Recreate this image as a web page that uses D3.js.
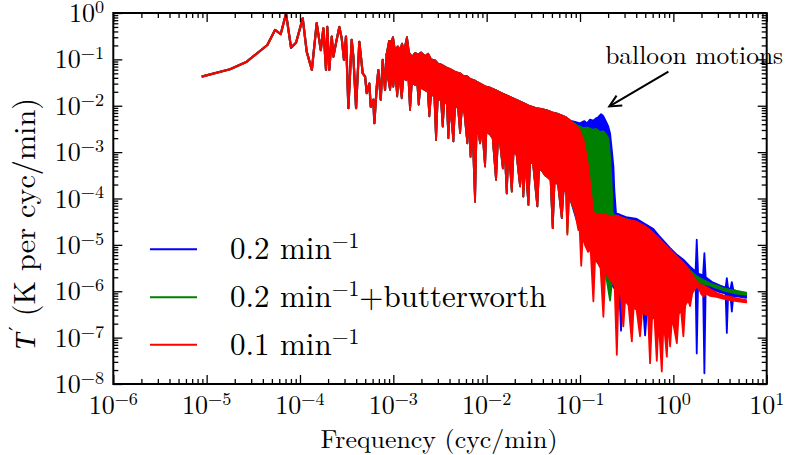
<!DOCTYPE html>
<html><head><meta charset="utf-8">
<script src="https://cdn.jsdelivr.net/npm/d3@7"></script>
<style>
body{margin:0;background:#fff}
svg{display:block}
</style>
</head><body>
<svg id="chart" width="787" height="455"></svg>
<script>
// ---------------- DATA ----------------
// Low-frequency part: a single trace, identical for all three filters
const traceFreq = [8.85e-6,1.78e-5,2.69e-5,4.47e-5,5.40e-5,6.22e-5,7.09e-5,8.02e-5,9.07e-5,1.07e-4,1.18e-4,1.34e-4,1.51e-4,1.67e-4,1.78e-4,1.90e-4,1.96e-4,2.06e-4,2.19e-4,2.28e-4,2.43e-4,2.64e-4,2.80e-4,2.96e-4,3.11e-4,3.30e-4,3.58e-4,3.73e-4,3.99e-4,4.32e-4,4.70e-4,4.98e-4,5.19e-4,5.53e-4,5.73e-4,6.11e-4,6.26e-4,6.64e-4,6.91e-4,7.33e-4,7.70e-4,8.15e-4,8.50e-4];
const traceT    = [0.0424,0.0611,0.0891,0.204,0.431,0.352,0.97,0.179,0.229,0.767,0.147,0.0592,0.603,0.158,0.468,0.059,0.50,0.059,0.309,0.115,0.224,0.50,0.282,0.098,0.309,0.0089,0.263,0.115,0.0089,0.24,0.050,0.0427,0.0186,0.030,0.0095,0.0135,0.0042,0.0257,0.059,0.0135,0.098,0.0219,0.135];

// Dense part (shared by all filters below ~0.07 cyc/min): upper and lower envelope
const midUpperFreq = [8.50e-4,9.00e-4,9.45e-4,9.93e-4,1.04e-3,1.12e-3,1.18e-3,1.24e-3,1.30e-3,1.40e-3,1.47e-3,1.59e-3,1.71e-3,1.84e-3,1.98e-3,2.19e-3,2.36e-3,2.54e-3,2.80e-3,3.01e-3,3.33e-3,3.67e-3,4.05e-3,4.59e-3,5.19e-3,5.58e-3,6.16e-3,6.64e-3,7.51e-3,8.50e-3,9.61e-3,1.09e-2,1.26e-2,1.46e-2,1.70e-2,1.92e-2,2.17e-2,2.45e-2,2.92e-2,3.38e-2,3.83e-2,4.44e-2,5.02e-2,5.68e-2,6.42e-2,7.09e-2];
const midUpperT    = [0.135,0.251,0.240,0.302,0.158,0.191,0.158,0.219,0.151,0.302,0.141,0.112,0.138,0.126,0.141,0.117,0.132,0.100,0.0955,0.0813,0.0759,0.0676,0.0617,0.0537,0.0501,0.0447,0.0437,0.0380,0.0347,0.0302,0.0263,0.0245,0.0214,0.0186,0.0162,0.0145,0.0129,0.0115,0.00977,0.00891,0.00851,0.00794,0.00724,0.00676,0.00617,0.00562];
const midLowerFreq = [8.50e-4,8.78e-4,9.22e-4,9.62e-4,1.00e-3,1.04e-3,1.10e-3,1.15e-3,1.23e-3,1.29e-3,1.37e-3,1.45e-3,1.51e-3,1.58e-3,1.71e-3,1.81e-3,1.87e-3,1.95e-3,2.13e-3,2.34e-3,2.43e-3,2.54e-3,2.75e-3,2.87e-3,2.99e-3,3.24e-3,3.38e-3,3.52e-3,3.74e-3,3.89e-3,4.05e-3,4.40e-3,4.59e-3,4.94e-3,5.19e-3,5.41e-3,5.77e-3,6.21e-3,6.48e-3,6.72e-3,6.97e-3,7.51e-3,7.83e-3,8.50e-3,8.92e-3,9.61e-3,9.92e-3,1.09e-2,1.16e-2,1.26e-2,1.32e-2,1.39e-2,1.49e-2,1.55e-2,1.64e-2,1.72e-2,1.86e-2,1.94e-2,2.09e-2,2.28e-2,2.38e-2,2.47e-2,2.58e-2,2.80e-2,2.92e-2,3.14e-2,3.49e-2,3.64e-2,3.92e-2,4.22e-2,4.55e-2,4.84e-2,5.10e-2,5.34e-2,5.82e-2,6.38e-2,6.67e-2,7.09e-2];
const midLowerT    = [0.135,0.0398,0.0219,0.0427,0.0257,0.0631,0.0158,0.0501,0.0145,0.0447,0.0355,0.0398,0.00813,0.0316,0.0282,0.0282,0.0105,0.0251,0.0224,0.0200,0.00589,0.0178,0.0158,0.00182,0.0141,0.0132,0.00355,0.0126,0.0112,0.00200,0.0112,0.00170,0.0100,0.00891,0.00257,0.00794,0.00708,0.00155,0.00631,0.000794,0.00562,8.51e-5,0.00447,0.00155,0.00355,0.00049,0.00282,0.0024,0.0020,0.000251,0.00178,0.00158,0.000447,0.00141,0.000129,0.0012,0.000141,0.0010,0.000891,0.000182,0.000794,0.00011,0.000708,7.24e-5,0.000631,0.000562,6.76e-5,0.000447,0.000398,0.000316,0.000282,0.000251,2.29e-5,0.00024,0.0002,3.8e-5,0.000158,0.000141];

// High-frequency parts, one per filter
const blueUpperFreq = [7.82e-2,9.23e-2,0.100,0.111,0.119,0.128,0.139,0.149,0.156,0.168,0.177,0.194,0.201,0.210,0.219,0.228,0.233,0.243,0.269,0.311,0.406,0.498,0.611,0.698,0.923,1.10,1.28,1.51,1.73,1.78,1.84,2.08,2.15,2.22,2.60,3.17,3.63,3.74,3.86,4.09,4.23,4.39,5.19,6.02];
const blueUpperT    = [0.00479,0.00437,0.00417,0.00468,0.00417,0.00501,0.00479,0.00537,0.00562,0.00661,0.00603,0.00417,0.00355,0.00251,0.00112,0.00049,0.000155,4.79e-5,4.47e-5,3.98e-5,3.63e-5,2.82e-5,2.19e-5,1.58e-5,8.51e-6,6.03e-6,4.79e-6,3.39e-6,2.63e-6,1.29e-5,2.40e-6,2.19e-6,6.61e-6,2.0e-6,1.58e-6,1.32e-6,1.20e-6,1.91e-6,1.17e-6,1.12e-6,1.58e-6,1.07e-6,9.33e-7,8.51e-7];
const blueLowerFreq = [7.82e-2,0.100,0.128,0.164,0.210,0.265,0.275,0.286,0.344,0.480,0.498,0.517,0.698,0.923,1.14,1.44,1.73,1.78,1.84,2.08,2.15,2.22,2.60,3.17,3.63,3.74,3.86,4.09,4.23,4.39,5.19,6.02];
const blueLowerT    = [1.0e-4,2.0e-5,7.94e-6,3.55e-6,1.58e-6,7.94e-7,1.41e-7,7.08e-7,5.01e-7,3.31e-7,1.12e-7,3.16e-7,2.82e-7,3.16e-7,3.98e-7,7.08e-7,1.58e-6,4.57e-8,1.45e-6,1.38e-6,1.70e-8,1.26e-6,1.10e-6,9.55e-7,8.91e-7,1.26e-7,8.32e-7,8.13e-7,3.63e-7,7.94e-7,7.59e-7,7.24e-7];

const greenUpperFreq = [7.82e-2,9.23e-2,0.108,0.122,0.135,0.149,0.164,0.177,0.190,0.201,0.210,0.215,0.221,0.224,0.232,0.269,0.344,0.440,0.563,0.698,0.923,1.14,1.51,1.78,2.10,2.48,2.92,3.41,4.05,4.94,6.02];
const greenUpperT    = [0.00479,0.0038,0.00331,0.00339,0.00302,0.00316,0.00269,0.00282,0.0024,0.0020,0.000794,0.000355,0.000126,5.01e-5,4.37e-5,3.98e-5,3.39e-5,2.63e-5,1.91e-5,1.20e-5,7.59e-6,4.79e-6,2.82e-6,2.09e-6,1.74e-6,1.48e-6,1.32e-6,1.17e-6,1.07e-6,1.0e-6,9.33e-7];
const greenLowerFreq = [7.32e-2,7.63e-2,8.86e-2,0.100,0.113,0.128,0.145,0.164,0.186,0.210,0.221,0.269,0.344,0.440,0.563,0.698,0.923,1.14,1.44,1.67,1.93,2.48,3.41,4.78,6.02];
const greenLowerT    = [1.82e-5,1.12e-4,5.01e-5,2.0e-5,1.26e-5,7.94e-6,5.01e-6,3.55e-6,2.82e-6,6.31e-7,1.78e-6,1.0e-6,5.62e-7,3.98e-7,3.16e-7,2.82e-7,3.16e-7,3.98e-7,7.08e-7,1.58e-6,1.51e-6,1.32e-6,1.05e-6,8.91e-7,8.51e-7];

const redUpperFreq = [7.82e-2,8.42e-2,9.23e-2,0.100,0.109,0.118,0.124,0.128,0.134,0.139,0.151,0.177,0.210,0.248,0.311,0.406,0.498,0.563,0.669,0.782,0.923,1.09,1.27,1.39,1.51,1.64,1.78,1.93,2.10,2.48,2.92,3.41,4.05,4.94,6.02];
const redUpperT    = [0.0049,0.00427,0.00363,0.00282,0.00182,0.000794,0.000398,0.000214,9.33e-5,5.01e-5,4.47e-5,4.57e-5,4.17e-5,4.27e-5,3.55e-5,3.16e-5,2.51e-5,2.09e-5,1.51e-5,1.10e-5,7.94e-6,5.62e-6,4.17e-6,3.39e-6,2.63e-6,2.09e-6,1.58e-6,1.38e-6,1.32e-6,1.10e-6,9.12e-7,8.13e-7,7.59e-7,6.92e-7,6.46e-7];
const redLowerFreq = [7.32e-2,7.63e-2,8.22e-2,8.86e-2,9.61e-2,9.89e-2,0.103,0.107,0.113,0.122,0.130,0.139,0.145,0.156,0.166,0.178,0.186,0.202,0.221,0.235,0.248,0.259,0.275,0.291,0.304,0.331,0.359,0.375,0.404,0.440,0.462,0.504,0.536,0.563,0.592,0.629,0.665,0.695,0.752,0.786,0.851,0.885,0.923,0.969,1.09,1.14,1.21,1.28,1.34,1.44,1.51,1.59,1.67,1.78,1.89,1.98,2.10,2.24,2.48,2.92,3.41,4.05,4.94,6.02];
const redLowerT    = [1.66e-5,1.12e-4,7.94e-5,5.01e-5,2.09e-5,2.51e-5,3.55e-6,1.58e-5,1.0e-5,7.08e-6,7.94e-6,6.03e-7,5.01e-6,3.98e-6,3.16e-6,2.82e-7,2.51e-6,2.0e-6,1.58e-6,1.26e-6,4.27e-8,1.12e-6,7.94e-7,1.74e-7,6.31e-7,5.01e-7,8.32e-8,4.47e-7,3.98e-7,1.07e-7,3.55e-7,3.16e-7,3.02e-7,2.82e-8,2.82e-7,2.51e-7,3.16e-8,2.51e-7,1.86e-8,2.51e-7,3.89e-8,2.51e-7,6.46e-8,2.82e-7,7.59e-8,3.16e-7,3.98e-7,1.07e-7,5.01e-7,6.31e-7,4.79e-7,8.91e-7,1.07e-6,1.26e-6,1.12e-6,8.91e-7,7.76e-7,8.91e-7,7.94e-7,7.59e-7,6.92e-7,6.46e-7,6.03e-7,5.75e-7];

const seriesLabels = ["0.2 min", "0.2 min", "0.1 min"];
const seriesSuffix = ["", "+butterworth", ""];
const seriesColors = ["#0000ff", "#008000", "#ff0000"];

const xTickValues = [1e-6,1e-5,1e-4,1e-3,1e-2,1e-1,1e0,1e1];
const xTickExps   = ["\u22126","\u22125","\u22124","\u22123","\u22122","\u22121","0","1"];
const yTickValues = [1e-8,1e-7,1e-6,1e-5,1e-4,1e-3,1e-2,1e-1,1e0];
const yTickExps   = ["\u22128","\u22127","\u22126","\u22125","\u22124","\u22123","\u22122","\u22121","0"];

const annotText = "balloon motions";
const annotTextAt = [0.186, 0.0796];
const annotFrom = [0.885, 0.0543];
const annotTip = [0.206, 0.00966];

// ---------------- DRAWING ----------------
const FONT = "'Latin Modern Roman','CMU Serif','Liberation Serif',serif";
const L = 113.3, R = 766.7, T = 13, B = 384;
const svg = d3.select("#chart");
const x = d3.scaleLog().domain([1e-6, 10]).range([L, R]);
const y = d3.scaleLog().domain([1e-8, 1]).range([B, T]);

svg.append("defs").append("clipPath").attr("id","clip")
  .append("rect").attr("x",L).attr("y",T).attr("width",R-L).attr("height",B-T);

const zip = (F, V) => F.map((f, i) => [f, V[i]]);
const line = d3.line().x(d => x(d[0])).y(d => y(d[1]));

const series = [
  {color: seriesColors[0], up: zip(blueUpperFreq, blueUpperT), lo: zip(blueLowerFreq, blueLowerT)},
  {color: seriesColors[1], up: zip(greenUpperFreq, greenUpperT), lo: zip(greenLowerFreq, greenLowerT)},
  {color: seriesColors[2], up: zip(redUpperFreq, redUpperT), lo: zip(redLowerFreq, redLowerT)}
];
const trace = zip(traceFreq, traceT);
const midUp = zip(midUpperFreq, midUpperT);
const midLo = zip(midLowerFreq, midLowerT);

const plot = svg.append("g").attr("clip-path","url(#clip)");
series.forEach(s => {
  const poly = midUp.concat(s.up).concat(midLo.concat(s.lo).reverse());
  plot.append("path").attr("d", line(poly) + "Z")
    .attr("fill", s.color).attr("stroke", s.color).attr("stroke-width", 1.8)
    .attr("stroke-linejoin","round");
  plot.append("path").attr("d", line(trace))
    .attr("fill","none").attr("stroke", s.color).attr("stroke-width", 2.2)
    .attr("stroke-linejoin","round");
});

// ticks (inward, all four sides)
const minorX = x.ticks().filter(v => !xTickValues.some(t => Math.abs(t - v) / t < 1e-9));
const minorY = y.ticks().filter(v => !yTickValues.some(t => Math.abs(t - v) / t < 1e-9));
function styleAxis(g){ g.select(".domain").remove(); g.selectAll("line").attr("stroke","#000").attr("stroke-width",1.3); g.selectAll("text").remove(); }
svg.append("g").attr("transform",`translate(0,${B})`).call(d3.axisBottom(x).tickValues(xTickValues).tickSize(-9)).call(styleAxis);
svg.append("g").attr("transform",`translate(0,${B})`).call(d3.axisBottom(x).tickValues(minorX).tickSize(-5)).call(styleAxis);
svg.append("g").attr("transform",`translate(0,${T})`).call(d3.axisTop(x).tickValues(xTickValues).tickSize(-9)).call(styleAxis);
svg.append("g").attr("transform",`translate(0,${T})`).call(d3.axisTop(x).tickValues(minorX).tickSize(-5)).call(styleAxis);
svg.append("g").attr("transform",`translate(${L},0)`).call(d3.axisLeft(y).tickValues(yTickValues).tickSize(-9)).call(styleAxis);
svg.append("g").attr("transform",`translate(${L},0)`).call(d3.axisLeft(y).tickValues(minorY).tickSize(-5)).call(styleAxis);
svg.append("g").attr("transform",`translate(${R},0)`).call(d3.axisRight(y).tickValues(yTickValues).tickSize(-9)).call(styleAxis);
svg.append("g").attr("transform",`translate(${R},0)`).call(d3.axisRight(y).tickValues(minorY).tickSize(-5)).call(styleAxis);

svg.append("rect").attr("x",L).attr("y",T).attr("width",R-L).attr("height",B-T)
  .attr("fill","none").attr("stroke","#000").attr("stroke-width",2);

// tick labels "10^n"
const tickFs = 26;
function powLabel(sel, exp, fs){
  sel.append("tspan").text("10");
  sel.append("tspan").attr("dy", -0.35*fs).attr("font-size", fs*0.7).text(exp);
}
xTickValues.forEach((v,i) => {
  const t = svg.append("text").attr("x", x(v)).attr("y", 414).attr("text-anchor","middle")
    .attr("font-family", FONT).attr("font-size", tickFs);
  powLabel(t, xTickExps[i], tickFs);
});
yTickValues.forEach((v,i) => {
  const t = svg.append("text").attr("x", 104).attr("y", y(v) + 9).attr("text-anchor","end")
    .attr("font-family", FONT).attr("font-size", tickFs);
  powLabel(t, yTickExps[i], tickFs);
});

// fit a text to the width it has in the reference
function fitWidth(sel, target){
  const w = sel.node().getComputedTextLength();
  if (w > 0) {
    const fs = +sel.attr("font-size") * target / w;
    sel.attr("font-size", Math.max(20, Math.min(32, fs)));
  }
}

// axis labels
const xl = svg.append("text").attr("x", 439).attr("y", 448).attr("text-anchor","middle")
  .attr("font-family", FONT).attr("font-size", 26).text("Frequency (cyc/min)");
fitWidth(xl, 237);
const yl = svg.append("text").attr("transform","translate(35,224) rotate(-90)").attr("text-anchor","middle")
  .attr("font-family", FONT).attr("font-size", 27);
yl.append("tspan").attr("font-family","'Liberation Serif',serif").attr("font-style","italic").attr("font-weight", 400).text("T");
yl.append("tspan").attr("font-family","'DejaVu Serif','Liberation Serif',serif").attr("font-size","70%").attr("dx","0.1em").attr("dy","-0.5em").text("\u2032");
yl.append("tspan").attr("dy","0.35em").text(" (K per cyc/min)");
fitWidth(yl, 250);

// annotation
const an = svg.append("text").attr("x", x(annotTextAt[0])).attr("y", y(annotTextAt[1]))
  .attr("font-family", FONT).attr("font-size", 26).text(annotText);
fitWidth(an, 178);
const ax0 = x(annotFrom[0]), ay0 = y(annotFrom[1]), ax1 = x(annotTip[0]), ay1 = y(annotTip[1]);
svg.append("line").attr("x1",ax0).attr("y1",ay0).attr("x2",ax1).attr("y2",ay1).attr("stroke","#000").attr("stroke-width",2);
const ang = Math.atan2(ay1-ay0, ax1-ax0), hl = 13, ha = 0.45;
svg.append("path")
  .attr("d", `M${ax1 - hl*Math.cos(ang-ha)},${ay1 - hl*Math.sin(ang-ha)}L${ax1},${ay1}L${ax1 - hl*Math.cos(ang+ha)},${ay1 - hl*Math.sin(ang+ha)}`)
  .attr("fill","none").attr("stroke","#000").attr("stroke-width",2).attr("stroke-linejoin","miter");

// legend
const legFs = 31, legY = [249.3, 297.3, 344.7];
seriesLabels.forEach((lab, i) => {
  svg.append("line").attr("x1",150).attr("x2",197).attr("y1",legY[i]).attr("y2",legY[i])
    .attr("stroke", seriesColors[i]).attr("stroke-width", 2);
  const t = svg.append("text").attr("x", 230).attr("y", legY[i] + 10)
    .attr("font-family", FONT).attr("font-size", legFs);
  t.append("tspan").text(lab);
  t.append("tspan").attr("dy", -0.36*legFs).attr("font-size", legFs*0.7).text("\u22121");
  if (seriesSuffix[i]) t.append("tspan").attr("dy", 0.36*legFs).text(seriesSuffix[i]);
});
</script>
</body></html>
